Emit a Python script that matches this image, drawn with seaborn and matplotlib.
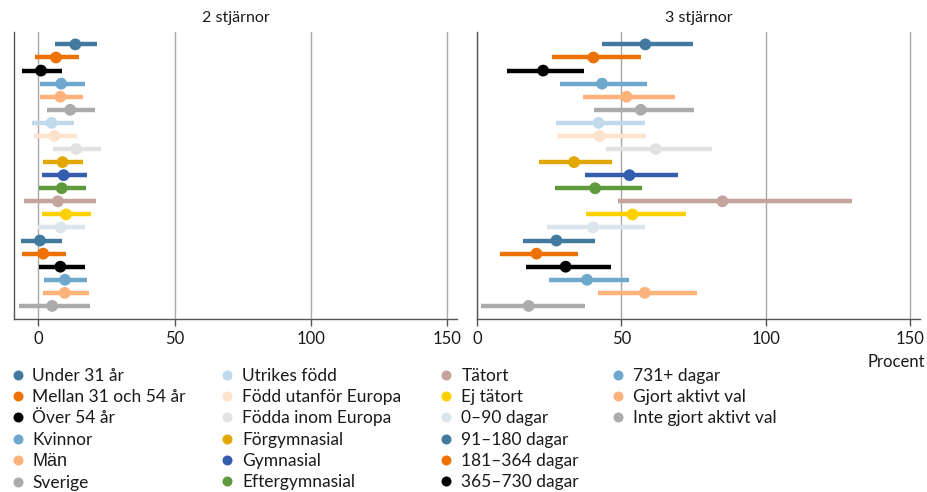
import matplotlib
matplotlib.use("Agg")
import matplotlib.pyplot as plt
from matplotlib.lines import Line2D
import numpy as np
import pandas as pd
import seaborn as sns

# Groups, top to bottom
labels = [
    "Under 31 år", "Mellan 31 och 54 år", "Över 54 år", "Kvinnor", "Män",
    "Sverige", "Utrikes född", "Född utanför Europa", "Födda inom Europa",
    "Förgymnasial", "Gymnasial", "Eftergymnasial", "Tätort", "Ej tätort",
    "0–90 dagar", "91–180 dagar", "181–364 dagar", "365–730 dagar",
    "731+ dagar", "Gjort aktivt val", "Inte gjort aktivt val",
]
colors = [
    "#41799f", "#ee7203", "#000000", "#6fa8cd", "#fdb27b",
    "#ababab", "#c0d9eb", "#fde2cc", "#e2e2e2",
    "#e2a800", "#335ead", "#5e9a3c", "#c4a49c", "#fdd000",
    "#dbe6ec", "#41799f", "#ee7203", "#000000",
    "#6fa8cd", "#fdb27b", "#ababab",
]

# 2 stjärnor: estimate with lower / upper bound (percent)
est2 = [13.6, 6.5, 1.0, 8.4, 8.1, 11.7, 4.9, 5.9, 13.9, 8.9, 9.3, 8.6, 7.2,
        10.2, 8.2, 0.6, 1.8, 8.1, 9.8, 9.7, 5.1]
lo2 = [6.2, -1.3, -6.0, 0.7, 0.5, 3.3, -2.4, -1.6, 5.4, 1.8, 1.4, 0.4, -5.2,
       1.5, 0.0, -6.5, -5.9, 0.1, 2.0, 1.6, -7.0]
hi2 = [21.4, 14.9, 8.8, 17.0, 16.5, 20.9, 13.1, 14.2, 23.1, 16.4, 17.8, 17.4,
       21.3, 19.4, 17.2, 8.7, 10.3, 17.2, 18.0, 18.5, 19.1]

# 3 stjärnor: estimate with lower / upper bound (percent)
est3 = [58.3, 40.3, 22.9, 43.3, 51.8, 56.7, 42.1, 42.4, 61.9, 33.6, 52.8, 40.9,
        85.0, 53.8, 40.2, 27.5, 20.6, 30.7, 38.1, 58.1, 17.9]
lo3 = [43.4, 25.9, 10.3, 28.9, 36.6, 40.4, 27.5, 28.0, 44.5, 21.6, 37.4, 26.9,
       48.8, 37.8, 24.4, 15.8, 7.8, 16.9, 25.1, 41.8, 1.4]
hi3 = [74.7, 56.8, 37.1, 59.0, 68.5, 75.3, 58.3, 58.6, 81.3, 46.7, 69.7, 57.0,
       129.8, 72.5, 58.2, 40.7, 34.9, 46.3, 52.8, 76.2, 37.3]

panel_titles = ["2 stjärnor", "3 stjärnor"]
x_ticks = [0, 50, 100, 150]

sns.set_theme(style="white")
plt.rcParams["font.family"] = ["Lato", "DejaVu Sans"]
plt.rcParams["text.color"] = "#1a1a1a"

W, H = 928, 492
fig = plt.figure(figsize=(W / 100, H / 100), dpi=100)

top_px, bot_px = 32, 319
ax_h = (bot_px - top_px) / H
ax1 = fig.add_axes([14 / W, 1 - bot_px / H, 443 / W, ax_h])
ax2 = fig.add_axes([477 / W, 1 - bot_px / H, 443 / W, ax_h])

palette = dict(zip(labels, colors))
rows = np.arange(len(labels))

for ax, est, lo, hi, title, xlim in [
    (ax1, est2, lo2, hi2, panel_titles[0], (-8.9, 153.6)),
    (ax2, est3, lo3, hi3, panel_titles[1], (0, 153.4)),
]:
    df = pd.DataFrame({"grupp": labels, "rad": rows, "est": est,
                       "lo": lo, "hi": hi})
    ax.hlines(df["rad"], df["lo"], df["hi"], colors=colors, lw=3.2,
              zorder=2, clip_on=False)
    sns.scatterplot(data=df, x="est", y="rad", hue="grupp", palette=palette,
                    s=72, linewidth=0, legend=False, ax=ax, zorder=3,
                    clip_on=False)
    ax.set_xlim(*xlim)
    ax.set_ylim(21.0, -0.95)
    ax.set_xticks(x_ticks)
    ax.set_yticks([])
    ax.set_xlabel("")
    ax.set_ylabel("")
    ax.grid(axis="x", color="#a8a8a8", lw=1.0)
    ax.grid(axis="y", visible=False)
    ax.set_axisbelow(True)
    for s in ["top", "right"]:
        ax.spines[s].set_visible(False)
    for s in ["left", "bottom"]:
        ax.spines[s].set_color("#555555")
        ax.spines[s].set_linewidth(1.0)
    ax.tick_params(axis="x", bottom=True, length=5, width=1, color="#555555",
                   labelsize=12, labelcolor="#1a1a1a", pad=4)
    ax.set_title(title, fontsize=11.5, pad=7, color="#1a1a1a")

fig.text(925 / W, 1 - 362 / H, "Procent", ha="right", va="center",
         fontsize=12)

# Legend in four columns
col_marker_x = [17.5, 227.5, 446.5, 618.0]
per_col = 6
fs = 12.5
for c, mx in enumerate(col_marker_x):
    idx = list(range(c * per_col, min((c + 1) * per_col, len(labels))))
    handles = [Line2D([], [], marker="o", ls="", markersize=7.2,
                      markerfacecolor=colors[i], markeredgewidth=0)
               for i in idx]
    hl = 0.8
    left_px = mx - hl * fs * 100 / 72 / 2
    leg = fig.legend(handles, [labels[i] for i in idx], loc="upper left",
                     bbox_to_anchor=(left_px / W, 1 - 368 / H),
                     frameon=False, fontsize=fs, handlelength=hl,
                     handletextpad=0.45, labelspacing=0.30, borderpad=0,
                     borderaxespad=0)
    for t in leg.get_texts():
        if t.get_text() == "Män":
            t.set_fontfamily(["Liberation Sans", "DejaVu Sans"])
            t.set_fontsize(13)

fig.savefig("out.png", dpi=100)
